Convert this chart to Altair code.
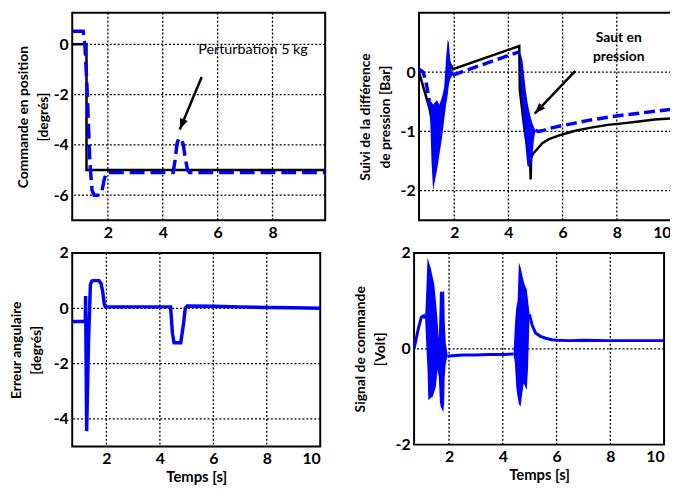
import altair as alt
import pandas as pd

BLUE = "#0000ff"
FONT = "Lato"

# ---------------- Panel 1 : Commande en position [degrés] ----------------
p1_xticks = [2, 4, 6, 8]
p1_yticks = [-6, -4, -2, 0]
p1_ref_t = [0.70, 1.22, 1.22, 9.92]
p1_ref_y = [0.0, 0.0, -5.0, -5.0]
p1_pos_t = [0.70, 1.10, 1.16, 1.24, 1.34, 1.42, 1.50, 1.70, 1.78, 1.86, 1.95, 4.38, 4.45, 4.52, 4.58,
            4.66, 4.74, 4.82, 4.90, 4.97, 9.92]
p1_pos_y = [0.52, 0.52, 0.0, -1.7, -4.6, -5.8, -6.0, -6.0, -5.85, -5.4, -5.1, -5.1, -4.6, -3.95, -3.75,
            -3.75, -3.95, -4.5, -5.0, -5.1, -5.1]
p1_note_t = [7.29]
p1_note_y = [-0.24]
p1_note_txt = ["Perturbation 5 kg"]
p1_arrow_t = [5.42, 4.62]
p1_arrow_y = [-1.30, -3.39]

# ---------------- Panel 2 : Suivi de la différence de pression [Bar] ----------------
p2_xticks = [2, 4, 6, 8, 10]
p2_yticks = [-2, -1, 0]
p2_ref_t = [0.70, 1.09, 1.20, 1.35, 1.50, 1.65, 1.78, 1.95, 4.40, 4.42, 4.60, 4.80, 4.82, 4.84, 4.90,
            5.00, 5.25, 5.50, 5.85, 6.46, 7.00, 7.67, 8.30, 8.88, 9.40, 10.0]
p2_ref_y = [0.0, -0.62, -0.9, -1.1, -0.9, -0.5, 0.2, 0.05, 0.44, -0.3, -1.0, -1.5, -1.81, -1.45, -1.38,
            -1.33, -1.2, -1.13, -1.07, -0.99, -0.94, -0.89, -0.86, -0.83, -0.80, -0.78]
p2_a_t = [0.70, 0.85, 0.95, 1.05, 1.10]
p2_a_y = [0.05, 0.0, -0.15, -0.4, -0.6]
p2_b_t = [1.95, 2.5, 3.0, 3.5, 4.0, 4.4]
p2_b_y = [-0.05, 0.04, 0.12, 0.2, 0.28, 0.34]
p2_c_t = [5.0, 5.1, 5.25, 5.5, 6.0, 6.46, 7.0, 7.67, 8.3, 8.88, 9.4, 10.0]
p2_c_y = [-0.98, -1.0, -0.99, -0.95, -0.9, -0.86, -0.81, -0.76, -0.72, -0.69, -0.66, -0.63]
p2_osc1_t = [1.10, 1.16, 1.22, 1.30, 1.37, 1.45, 1.55, 1.63, 1.70, 1.76, 1.80, 1.85, 1.90, 1.95]
p2_osc1_lo = [-0.62, -1.5, -2.0, -1.8, -1.64, -1.4, -1.1, -0.8, -0.55, -0.38, -0.22, -0.12, -0.08, -0.05]
p2_osc1_hi = [-0.55, -0.5, -0.55, -0.5, -0.48, -0.55, -0.42, -0.25, 0.25, 0.55, 0.5, 0.22, 0.05, -0.03]
p2_osc2_t = [4.40, 4.46, 4.52, 4.58, 4.64, 4.70, 4.76, 4.82, 4.88, 4.94, 5.00]
p2_osc2_hi = [0.34, 0.3, 0.19, -0.05, -0.31, -0.5, -0.64, -0.76, -0.86, -0.93, -0.98]
p2_osc2_lo = [0.34, -0.31, -0.7, -1.03, -1.3, -1.58, -1.6, -1.55, -1.45, -1.14, -0.98]
p2_note_t = [8.07, 8.07]
p2_note_y = [0.58, 0.25]
p2_note_txt = ["Saut en", "pression"]
p2_arrow_t = [6.47, 4.97]
p2_arrow_y = [0.02, -0.70]

# ---------------- Panel 3 : Erreur angulaire [degrés] ----------------
p3_xticks = [2, 4, 6, 8, 10]
p3_yticks = [-4, -2, 0, 2]
p3_t = [0.70, 1.21, 1.22, 1.26, 1.33, 1.40, 1.45, 1.50, 1.72, 1.80, 1.86, 1.92, 1.96, 2.5, 4.40, 4.47,
        4.53, 4.78, 4.88, 4.95, 5.02, 6.0, 7.0, 8.0, 9.0, 10.0]
p3_y = [-0.48, -0.48, 0.44, -4.44, -1.2, 0.85, 0.98, 1.0, 1.0, 0.9, 0.6, 0.15, 0.05, 0.05, 0.05, -0.9,
        -1.25, -1.25, -0.6, 0.0, 0.08, 0.07, 0.05, 0.03, 0.02, 0.0]

# ---------------- Panel 4 : Signal de commande [Volt] ----------------
p4_xticks = [2, 4, 6, 8, 10]
p4_yticks = [-2, 0, 2]
p4_a_t = [0.70, 0.85, 0.97, 1.07, 1.11]
p4_a_y = [0.0, 0.4, 0.66, 0.69, 0.63]
p4_b_t = [1.94, 2.0, 2.5, 3.0, 3.5, 4.0, 4.40]
p4_b_y = [-0.16, -0.15, -0.13, -0.13, -0.12, -0.12, -0.11]
p4_c_t = [4.99, 5.1, 5.22, 5.4, 5.6, 5.82, 6.0, 6.5, 7.0, 8.0, 9.0, 10.0]
p4_c_y = [0.72, 0.48, 0.33, 0.26, 0.22, 0.19, 0.18, 0.17, 0.18, 0.17, 0.17, 0.17]
p4_osc1_t = [1.11, 1.16, 1.20, 1.23, 1.33, 1.39, 1.45, 1.51, 1.57, 1.62, 1.66, 1.69, 1.75, 1.79, 1.82,
             1.84, 1.88, 1.94]
p4_osc1_hi = [0.63, 1.3, 1.91, 1.85, 1.66, 1.5, 1.35, 1.0, 0.61, 0.2, 1.17, 1.2, 1.18, 1.2, 1.2, 0.6, 0.1, -0.1]
p4_osc1_lo = [0.63, 0.0, -0.44, -1.07, -1.02, -1.0, -0.9, -0.79, -0.44, -0.6, -1.1, -1.21, -1.28, -1.32,
              -1.1, -0.58, -0.3, -0.16]
p4_osc2_t = [4.40, 4.45, 4.50, 4.55, 4.60, 4.66, 4.72, 4.78, 4.84, 4.89, 4.94, 4.99]
p4_osc2_hi = [-0.11, 0.5, 0.85, 1.0, 1.8, 1.7, 1.55, 1.4, 1.3, 1.24, 1.0, 0.75]
p4_osc2_lo = [-0.11, -0.3, -0.79, -1.0, -1.15, -1.21, -0.95, -0.72, -0.8, -0.86, -0.4, 0.6]

ARROW = "M0,0L0.75,2L-0.75,2Z"
GRID = dict(color="#000000", strokeWidth=1.3, strokeDash=[2, 2], opacity=1)


def segs(*pairs):
    frames = []
    for i, (t, y) in enumerate(pairs):
        frames.append(pd.DataFrame({"t": t, "y": y, "seg": i}))
    return pd.concat(frames, ignore_index=True)


def band(t, lo, hi):
    return pd.DataFrame({"t": t, "lo": lo, "hi": hi})


def xenc(domain, values, title=None):
    return alt.X("t:Q", scale=alt.Scale(domain=domain, nice=False, zero=False),
                 axis=alt.Axis(values=values, title=title))


def yenc(domain, values, title, field="y", tpad=8):
    return alt.Y(f"{field}:Q", scale=alt.Scale(domain=domain, nice=False, zero=False),
                 axis=alt.Axis(values=values, title=title, titlePadding=tpad))


def grid_layers(X, Y, xd, yd, xticks, yticks):
    xs = [v for v in xticks if xd[0] < v < xd[1]]
    ys = [v for v in yticks if yd[0] < v < yd[1]]
    vx = alt.Chart(pd.DataFrame({"t": xs})).mark_rule(**GRID).encode(x=X)
    hy = alt.Chart(pd.DataFrame({"y": ys})).mark_rule(**GRID).encode(y=Y)
    return [vx, hy]


# ---- Panel 1
XD1, YD1 = [0.70, 9.92], [-7, 1.25]
X1 = xenc(XD1, p1_xticks)
Y1 = yenc(YD1, p1_yticks, ["Commande en position", "[degrés]"], tpad=3)
c1_ref = alt.Chart(segs((p1_ref_t, p1_ref_y))).mark_line(color="black", strokeWidth=2.5, clip=True).encode(
    x=X1, y=Y1, detail="seg:N")
c1_pos = alt.Chart(segs((p1_pos_t, p1_pos_y))).mark_line(
    color=BLUE, strokeWidth=3.5, strokeDash=[15, 6], clip=True).encode(x=X1, y=Y1, detail="seg:N")
c1_txt = alt.Chart(pd.DataFrame({"t": p1_note_t, "y": p1_note_y, "txt": p1_note_txt})).mark_text(
    font=FONT, fontSize=14.5, color="black", align="center", baseline="middle").encode(x=X1, y=Y1, text="txt:N")
c1_arr = alt.Chart(pd.DataFrame({"t": p1_arrow_t, "y": p1_arrow_y})).mark_line(
    color="black", strokeWidth=2.5).encode(x=X1, y=Y1)
c1_head = alt.Chart(pd.DataFrame({"t": p1_arrow_t[1:], "y": p1_arrow_y[1:]})).mark_point(
    shape=ARROW, filled=True, size=121, color="black", opacity=1, angle=202.5).encode(x=X1, y=Y1)
panel1 = alt.layer(*grid_layers(X1, Y1, XD1, YD1, p1_xticks, p1_yticks),
                   c1_ref, c1_pos, c1_arr, c1_head, c1_txt).properties(width=256, height=210)

# ---- Panel 2
XD2, YD2 = [0.70, 10], [-2.5, 1]
X2 = xenc(XD2, p2_xticks)
T2 = ["Suivi de la différence", "de pression [Bar]"]
Y2 = yenc(YD2, p2_yticks, T2)
Y2b = yenc(YD2, p2_yticks, T2, field="lo")
c2_ref = alt.Chart(segs((p2_ref_t, p2_ref_y))).mark_line(color="black", strokeWidth=2.5, clip=True).encode(
    x=X2, y=Y2, detail="seg:N")
c2_o1 = alt.Chart(band(p2_osc1_t, p2_osc1_lo, p2_osc1_hi)).mark_area(color=BLUE, opacity=1, clip=True).encode(
    x=X2, y=Y2b, y2="hi:Q")
c2_o2 = alt.Chart(band(p2_osc2_t, p2_osc2_lo, p2_osc2_hi)).mark_area(color=BLUE, opacity=1, clip=True).encode(
    x=X2, y=Y2b, y2="hi:Q")
c2_pos = alt.Chart(segs((p2_a_t, p2_a_y), (p2_b_t, p2_b_y), (p2_c_t, p2_c_y))).mark_line(
    color=BLUE, strokeWidth=3.5, strokeDash=[11, 5], clip=True).encode(x=X2, y=Y2, detail="seg:N")
c2_txt = alt.Chart(pd.DataFrame({"t": p2_note_t, "y": p2_note_y, "txt": p2_note_txt})).mark_text(
    font=FONT, fontSize=14, fontWeight="bold", color="black", align="center", baseline="middle").encode(
    x=X2, y=Y2, text="txt:N")
c2_arr = alt.Chart(pd.DataFrame({"t": p2_arrow_t, "y": p2_arrow_y})).mark_line(
    color="black", strokeWidth=2.5).encode(x=X2, y=Y2)
c2_head = alt.Chart(pd.DataFrame({"t": p2_arrow_t[1:], "y": p2_arrow_y[1:]})).mark_point(
    shape=ARROW, filled=True, size=121, color="black", opacity=1, angle=223.6).encode(x=X2, y=Y2)
panel2 = alt.layer(*grid_layers(X2, Y2, XD2, YD2, p2_xticks, p2_yticks),
                   c2_ref, c2_o1, c2_o2, c2_pos, c2_arr, c2_head, c2_txt).properties(width=255, height=210)

# ---- Panel 3
XD3, YD3 = [0.72, 10], [-5, 2]
X3 = xenc(XD3, p3_xticks, "Temps [s]")
Y3 = yenc(YD3, p3_yticks, ["Erreur angulaire", "[degrés]"], tpad=10)
c3_line = alt.Chart(segs((p3_t, p3_y))).mark_line(color=BLUE, strokeWidth=3.5, clip=True).encode(
    x=X3, y=Y3, detail="seg:N")
panel3 = alt.layer(*grid_layers(X3, Y3, XD3, YD3, p3_xticks, p3_yticks), c3_line).properties(
    width=251, height=196)

# ---- Panel 4
XD4, YD4 = [0.70, 10], [-2, 2]
X4 = xenc(XD4, p4_xticks, "Temps [s]")
T4 = ["Signal de commande", "[Volt]"]
Y4 = yenc(YD4, p4_yticks, T4)
Y4b = yenc(YD4, p4_yticks, T4, field="lo")
c4_line = alt.Chart(segs((p4_a_t, p4_a_y), (p4_b_t, p4_b_y), (p4_c_t, p4_c_y))).mark_line(
    color=BLUE, strokeWidth=3, clip=True).encode(x=X4, y=Y4, detail="seg:N")
c4_o1 = alt.Chart(band(p4_osc1_t, p4_osc1_lo, p4_osc1_hi)).mark_area(color=BLUE, opacity=1, clip=True).encode(
    x=X4, y=Y4b, y2="hi:Q")
c4_o2 = alt.Chart(band(p4_osc2_t, p4_osc2_lo, p4_osc2_hi)).mark_area(color=BLUE, opacity=1, clip=True).encode(
    x=X4, y=Y4b, y2="hi:Q")
panel4 = alt.layer(*grid_layers(X4, Y4, XD4, YD4, p4_xticks, p4_yticks),
                   c4_line, c4_o1, c4_o2).properties(width=253, height=194)

top = alt.hconcat(panel1, panel2, spacing=30)
bottom = alt.hconcat(panel3, panel4, spacing=30)

chart = alt.vconcat(top, bottom, spacing=3).properties(
    padding={"left": 0, "top": 0, "right": -3, "bottom": 0}, background="white"
).configure_axis(
    labelFont=FONT, labelFontSize=16, labelFontWeight="bold", labelColor="black", labelPadding=4,
    labelExpr="replace(datum.label, '\u2212', '-')",
    titleFont=FONT, titleFontSize=14, titleFontWeight="bold", titleColor="black",
    grid=False, ticks=False, domain=False,
).configure_axisY(titleLineHeight=20).configure_axisX(titlePadding=3, titleFontSize=15).configure_view(
    stroke="black", strokeWidth=2)

chart.save("out.html", embed_options={"renderer": "svg", "actions": False})
